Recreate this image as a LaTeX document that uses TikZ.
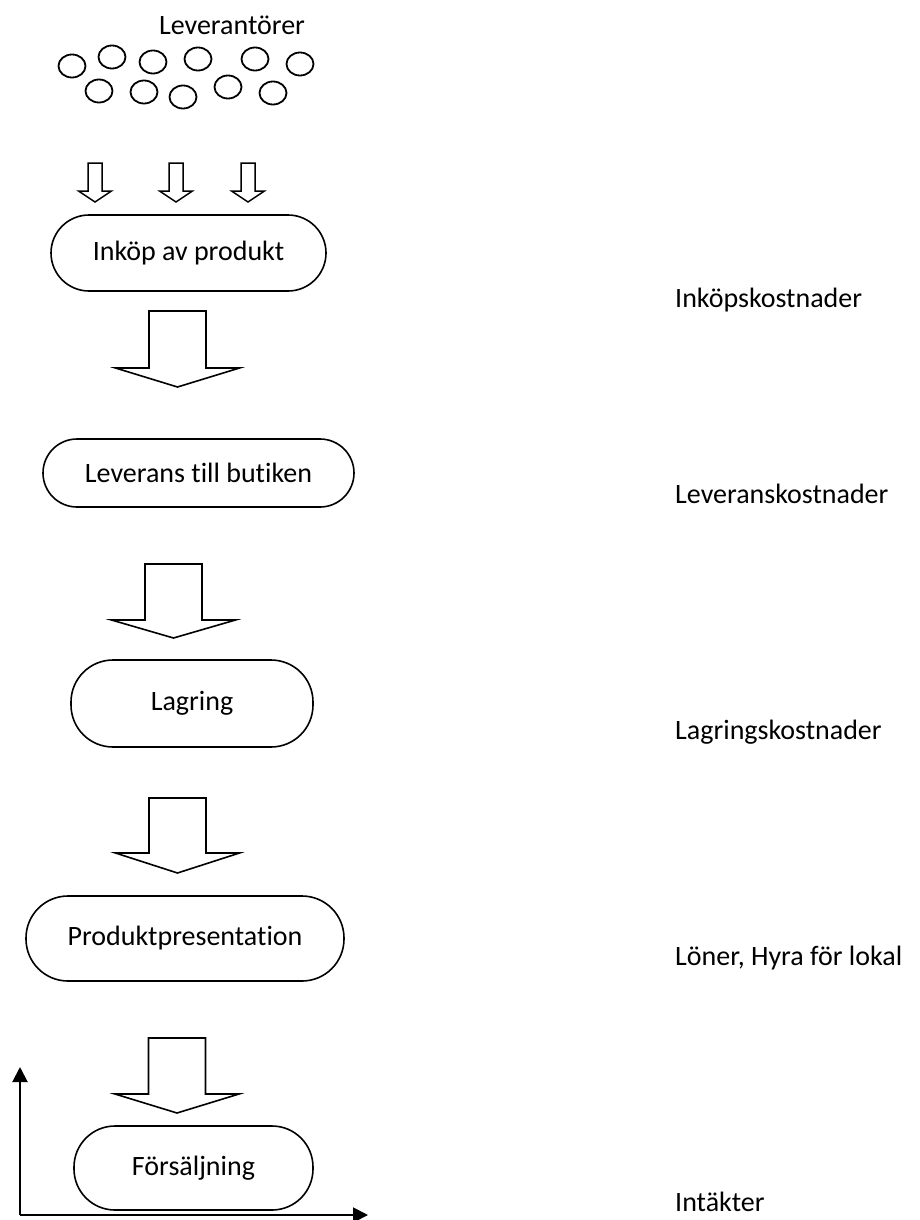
\documentclass[tikz,border=0pt]{standalone}
\usepackage{fontspec}
\setmainfont{Carlito}[Ligatures=NoCommon]
\usetikzlibrary{arrows.meta}
\begin{document}
\begin{tikzpicture}[x=1pt,y=-1pt,
  label font/.style={font=\fontsize{28}{32}\selectfont},
  stage/.style={draw, line width=1.6pt, rounded corners=#1, inner sep=0pt, label font},
  cost/.style={anchor=base west, inner sep=0pt, label font},
  supplier/.style={line width=1.8pt},
  axis/.style={line width=2pt, -{Triangle[length=15pt,width=15pt]}},
  pics/bigflow/.style n args={3}{code={%
    \draw[line width=1.6pt, line join=miter]
      (-28.5,#1) -- (28.5,#1) -- (28.5,#2) -- (62,#2) -- (0,#3)
      -- (-62,#2) -- (-28.5,#2) -- cycle;}},
  pics/smallflow/.style={code={%
    \draw[line width=1.5pt, line join=miter]
      (-7,163) -- (7,163) -- (7,191) -- (16.5,191) -- (0,202)
      -- (-16.5,191) -- (-7,191) -- cycle;}}
]
\useasboundingbox (0,0) rectangle (920,1220);

% suppliers
\node[anchor=base, inner sep=0pt, label font] (suppliers) at (232,35) {Leverantörer};
\foreach \cx/\cy in {72/66, 112/57, 153/62, 198/59, 255/59, 300/64,
                     99/91, 144/92, 183/97, 228/87, 273/93}
  \draw[supplier] (\cx,\cy) ellipse [x radius=13.5, y radius=11.5];

% incoming deliveries
\pic at (95,0) {smallflow};
\pic at (176,0) {smallflow};
\pic at (248,0) {smallflow};

% process chain
\node[stage=38pt, minimum width=275pt, minimum height=76pt] (buy)   at (188.5,253)   {Inköp av produkt};
\node[stage=34pt, minimum width=311pt, minimum height=68pt] (ship)  at (198.5,473)   {Leverans till butiken};
\node[stage=42pt, minimum width=242pt, minimum height=87pt] (store) at (192,703.5)   {Lagring};
\node[stage=42pt, minimum width=318pt, minimum height=85pt] (show)  at (185,938.5)   {Produktpresentation};
\node[stage=41pt, minimum width=239pt, minimum height=84pt] (sell)  at (193.5,1168)  {Försäljning};

\pic at (177.5,0) {bigflow={311}{368}{387}};
\pic at (173.5,0) {bigflow={564}{620}{638}};
\pic at (177.5,0) {bigflow={798}{853}{873}};
\pic at (177,0)   {bigflow={1038}{1094}{1113}};

% costs and revenue
\node[cost] (c1) at (675,307)  {Inköpskostnader};
\node[cost] (c2) at (675,503)  {Leveranskostnader};
\node[cost] (c3) at (675,739)  {Lagringskostnader};
\node[cost] (c4) at (675,965)  {Löner, Hyra för lokal};
\node[cost] (c5) at (675,1211) {Intäkter};

% axes
\coordinate (origin) at (20,1215);
\coordinate (ytip) at (20,1067);
\coordinate (xtip) at (368,1215);
\draw[axis] (origin) -- (ytip);
\draw[axis] (origin) -- (xtip);
\end{tikzpicture}
\end{document}
